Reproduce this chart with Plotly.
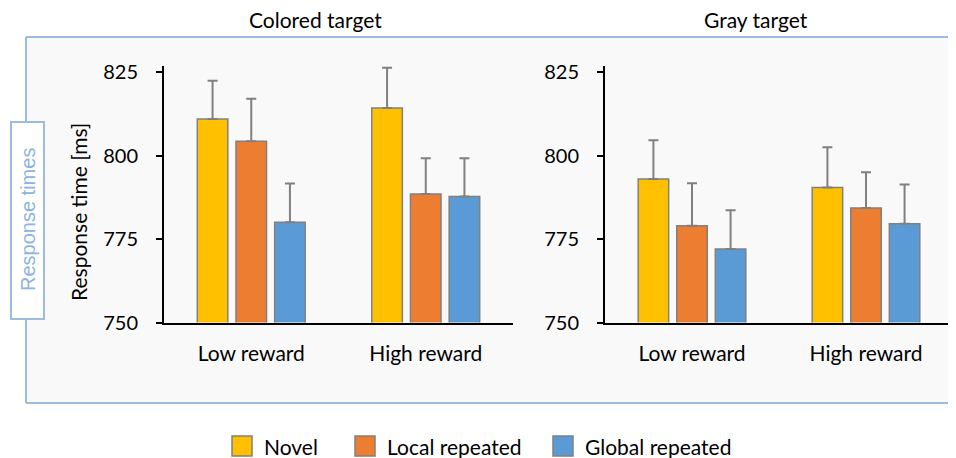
import plotly.graph_objects as go

OFF = 8  # page body margin
W, H = 956 - OFF, 458 - OFF

categories = ["Low reward", "High reward"]
series_names = ["Novel", "Local repeated", "Global repeated"]
series_colors = ["#FFC000", "#ED7D31", "#5B9BD5"]

# Colored target panel
colored_novel = [810.9, 814.2]
colored_local = [804.3, 788.5]
colored_global = [780.0, 787.7]
colored_novel_err = [11.5, 12.1]
colored_local_err = [12.7, 10.7]
colored_global_err = [11.6, 11.5]

# Gray target panel
gray_novel = [793.0, 790.4]
gray_local = [779.0, 784.3]
gray_global = [772.0, 779.6]
gray_novel_err = [11.6, 12.1]
gray_local_err = [12.7, 10.7]
gray_global_err = [11.6, 11.7]

y_ticks = [750, 775, 800, 825]
panel_titles = ["Colored target", "Gray target"]

FONT = "Lato"
BORDER = "#9DBBE0"
BAR_EDGE = "#808080"


def px_x(v):
    return (v - OFF) / W


def px_y(v):
    return (H - (v - OFF)) / H


fig = go.Figure()

panels = [
    ("x", "y", [colored_novel, colored_local, colored_global],
     [colored_novel_err, colored_local_err, colored_global_err]),
    ("x2", "y2", [gray_novel, gray_local, gray_global],
     [gray_novel_err, gray_local_err, gray_global_err]),
]

for xa, ya, vals, errs in panels:
    for name, color, v, e in zip(series_names, series_colors, vals, errs):
        fig.add_trace(go.Bar(
            x=categories, y=v, name=name, xaxis=xa, yaxis=ya,
            marker=dict(color=color, line=dict(color=BAR_EDGE, width=1.5)),
            error_y=dict(type="data", array=e, arrayminus=[0] * len(e),
                         symmetric=False, color=BAR_EDGE, thickness=2, width=5),
            showlegend=False,
        ))

y_dom = [px_y(322.5), px_y(66)]
y_rng = [750, 750 + (322.5 - 66) / 3.34]

axis_common_y = dict(
    range=y_rng, domain=y_dom, tickvals=y_ticks, ticks="outside", ticklen=6,
    tickwidth=1.5, tickcolor="black", showline=True, linecolor="black",
    linewidth=2, showgrid=False, zeroline=False, automargin=False,
    tickfont=dict(family=FONT, size=20, color="black"), ticklabelstandoff=14,
)
axis_common_x = dict(
    showline=True, linecolor="black", linewidth=2, ticks="", showgrid=False,
    automargin=False,
    tickfont=dict(family=FONT, size=21, color="black"), ticklabelstandoff=11,
    range=[-0.5, 1.5],
)

fig.update_layout(
    width=W, height=H, margin=dict(l=0, r=0, t=0, b=0),
    paper_bgcolor="white", plot_bgcolor="rgba(0,0,0,0)",
    barmode="group", bargap=0.335, bargroupgap=0.21,
    xaxis=dict(domain=[px_x(164), px_x(513)], anchor="y", **axis_common_x),
    yaxis=dict(anchor="x", **axis_common_y),
    xaxis2=dict(domain=[px_x(605), px_x(953)], anchor="y2", **axis_common_x),
    yaxis2=dict(anchor="x2", **axis_common_y),
    font=dict(family=FONT, color="black"),
)

# Background panel (open on the right) and side tab
x_left, x_right, y_top, y_bot = px_x(26), 1.05, px_y(37), px_y(403)
fig.add_shape(type="rect", xref="paper", yref="paper",
              x0=x_left, x1=x_right, y0=y_bot, y1=y_top,
              fillcolor="#F9F9F9", line=dict(width=0), layer="below")
for (a0, b0, a1, b1) in [(x_left, y_top, x_right, y_top),
                         (x_left, y_bot, x_right, y_bot),
                         (x_left, y_bot, x_left, y_top)]:
    fig.add_shape(type="line", xref="paper", yref="paper", x0=a0, y0=b0, x1=a1, y1=b1,
                  line=dict(color=BORDER, width=2), layer="below")
fig.add_shape(type="rect", xref="paper", yref="paper",
              x0=px_x(11), x1=px_x(44), y0=px_y(319), y1=px_y(122),
              fillcolor="white", line=dict(color=BORDER, width=2), layer="below")
fig.add_annotation(text="Response times", xref="paper", yref="paper",
                   x=px_x(28), y=px_y(220), xanchor="center", yanchor="middle",
                   textangle=-90, showarrow=False,
                   font=dict(family="Liberation Sans", size=20, color="#8DB3E2"))

# Y title
fig.add_annotation(text="Response time [ms]", xref="paper", yref="paper",
                   x=px_x(78), y=px_y(212), xanchor="center", yanchor="middle",
                   textangle=-90, showarrow=False,
                   font=dict(family=FONT, size=21, color="black"))

# Panel titles
for t, cx in zip(panel_titles, [315.5, 755.7]):
    fig.add_annotation(text=t, xref="paper", yref="paper", x=px_x(cx), y=px_y(20),
                       xanchor="center", yanchor="middle", showarrow=False,
                       font=dict(family=FONT, size=21, color="black"))

# Legend
leg_sq = [232, 355, 553]
for name, color, sx in zip(series_names, series_colors, leg_sq):
    fig.add_shape(type="rect", xref="paper", yref="paper",
                  x0=px_x(sx), x1=px_x(sx + 20), y0=px_y(456), y1=px_y(436),
                  fillcolor=color, line=dict(color=BAR_EDGE, width=1.5))
    fig.add_annotation(text=name, xref="paper", yref="paper", x=px_x(sx + 30),
                       y=px_y(446), xanchor="left", yanchor="middle", showarrow=False,
                       font=dict(family=FONT, size=21, color="black"))

fig.write_html("out.html")
